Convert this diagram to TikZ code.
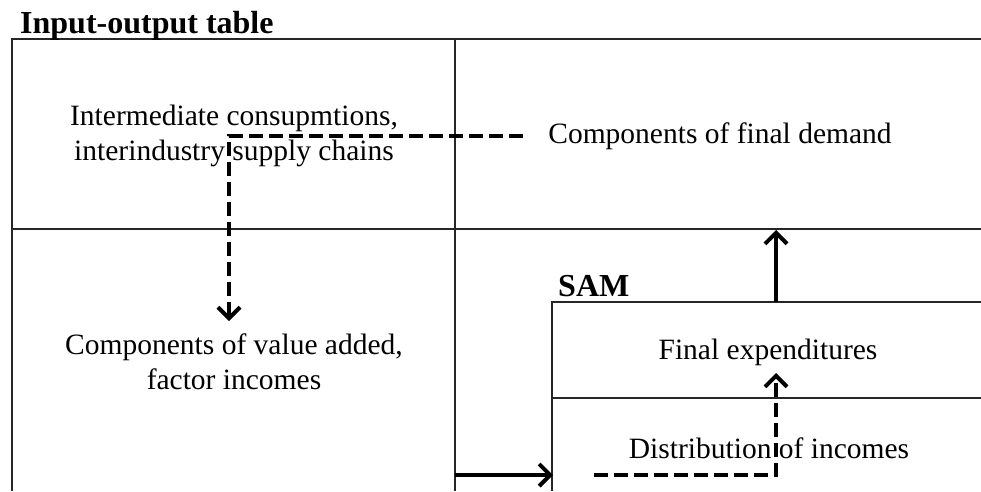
\documentclass[tikz,border=0pt]{standalone}
\usepackage{fontspec}
\setmainfont{Liberation Serif}
\usetikzlibrary{arrows.meta}
\tikzset{
  grid/.style={line width=1.3pt, draw=black!85},
  body/.style={font=\fontsize{29.5}{35}\selectfont, align=center, inner sep=0pt},
  headbold/.style={font=\fontsize{32}{36}\selectfont\bfseries, inner sep=0pt, anchor=base west},
  solidarrow/.style={line width=4pt, -{Straight Barb[length=11pt,width=22pt]}},
  dasharrow/.style={solidarrow, dash pattern=on 14pt off 6pt},
}
\begin{document}
\begin{tikzpicture}[x=1pt,y=-1pt]
\useasboundingbox (0,0) rectangle (981,491);
% input-output table grid
\draw[grid] (12,491) -- (12,39) -- (981,39);
\draw[grid] (12,229) -- (981,229);
\draw[grid] (455,39) -- (455,491);
% SAM box
\draw[grid] (552,491) -- (552,302) -- (981,302);
\draw[grid] (552,398) -- (981,398);
% titles
\node[headbold] (iot) at (20,33) {Input-output table};
\node[headbold] (sam) at (558,296) {SAM};
% cell texts
\node[body] (ic) at (234,136) {Intermediate consupmtions,\\interindustry supply chains};
\node[body] (fd) at (720,136) {Components of final demand};
\node[body] (va) at (234,362) {Components of value added,\\factor incomes};
\node[body] (fe) at (768,352) {Final expenditures};
\node[body] (di) at (769,448) {Distribution of incomes};
% connector end points
\coordinate (d1start) at (523,136);
\coordinate (d1end) at (229,321);
\coordinate (samtop) at (776,302);
\coordinate (fdbottom) at (776,230);
\coordinate (iotedge) at (455,475);
\coordinate (samleft) at (553,475);
\coordinate (d2start) at (594,475);
\coordinate (d2end) at (776,373);
% connectors
\draw[dasharrow] (d1start) -| (d1end);
\draw[solidarrow] (samtop) -- (fdbottom);
\draw[solidarrow] (iotedge) -- (samleft);
\draw[dasharrow] (d2start) -| (d2end);
\end{tikzpicture}
\end{document}
